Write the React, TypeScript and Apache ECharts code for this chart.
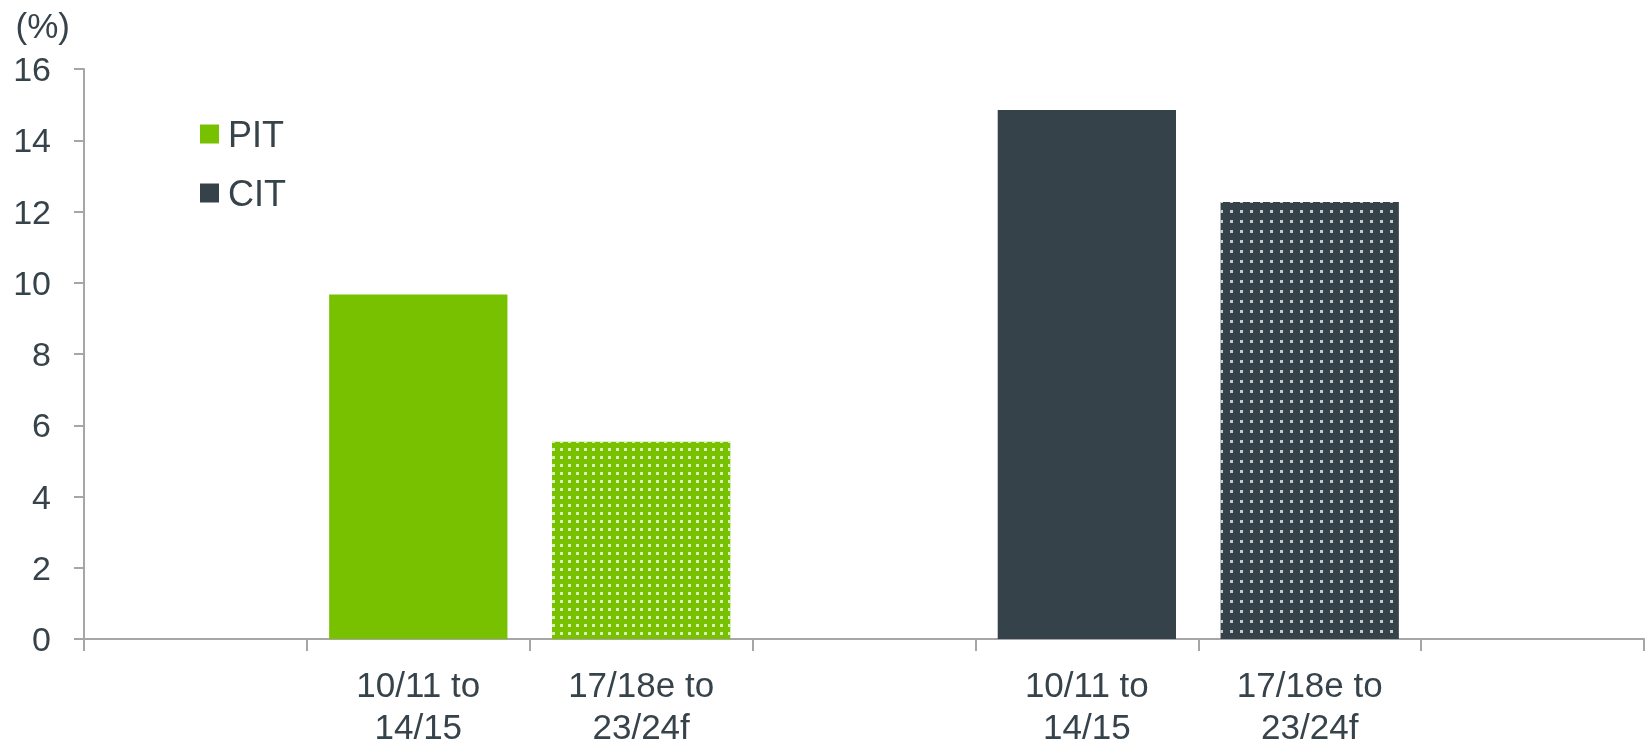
import React, { useEffect, useRef } from "react";
import * as echarts from "echarts";

const categories = ["", "10/11 to\n14/15", "17/18e to\n23/24f", "", "10/11 to\n14/15", "17/18e to\n23/24f", ""];
const pitValues: (number | null)[] = [null, 9.67, 5.54, null, null, null, null];
const citValues: (number | null)[] = [null, null, null, null, 14.85, 12.27, null];
const dottedIndex = [2, 5];
const yTicks = { min: 0, max: 16, interval: 2 };

const GREEN = "#78c100";
const DARK = "#36424a";
const TEXT = "#37434b";
const AXIS = "#a6a6a6";
const FONT = "'Liberation Sans', Arial, sans-serif";

function buildData(values: (number | null)[], dotSpacing: number) {
  return values.map((v, i) =>
    dottedIndex.includes(i) && v != null
      ? {
          value: v,
          itemStyle: {
            decal: {
              symbol: "rect",
              symbolSize: 1,
              color: "rgba(255,255,255,0.72)",
              dashArrayX: [[3, dotSpacing - 3]],
              dashArrayY: [3, dotSpacing - 3],
              rotation: 0,
            },
          },
        }
      : v
  );
}

export default function App() {
  const ref = useRef<HTMLDivElement>(null);
  useEffect(() => {
    document.body.style.margin = "0";
    const chart = echarts.init(ref.current!, null, { renderer: "svg" });
    chart.setOption({
      animation: false,
      aria: { enabled: false, decal: { show: false } },
      grid: { left: 84, right: 3, top: 69, bottom: 104, containLabel: false },
      legend: {
        orient: "vertical",
        left: 200,
        top: 116,
        padding: 0,
        itemWidth: 19,
        itemHeight: 19,
        itemGap: 23,
        icon: "rect",
        selectedMode: false,
        textStyle: { fontFamily: FONT, fontSize: 36, color: TEXT, padding: [0, 0, 0, 4] },
        data: ["PIT", "CIT"],
      },
      xAxis: {
        type: "category",
        data: categories,
        axisLine: { lineStyle: { color: AXIS, width: 2 } },
        axisTick: { show: true, length: 12, lineStyle: { color: AXIS, width: 2 } },
        axisLabel: {
          interval: 0,
          fontFamily: FONT,
          fontSize: 35,
          lineHeight: 42,
          color: TEXT,
          margin: 24,
        },
      },
      yAxis: {
        type: "value",
        min: yTicks.min,
        max: yTicks.max,
        interval: yTicks.interval,
        name: "(%)",
        nameLocation: "end",
        nameGap: 44,
        nameTextStyle: {
          fontFamily: FONT,
          fontSize: 35,
          color: TEXT,
          align: "right",
          verticalAlign: "middle",
          padding: [0, 14, 0, 0],
        },
        axisLine: { show: true, lineStyle: { color: AXIS, width: 2 } },
        axisTick: { show: true, length: 10, lineStyle: { color: AXIS, width: 2 } },
        splitLine: { show: false },
        axisLabel: { fontFamily: FONT, fontSize: 34, color: TEXT, margin: 33 },
      },
      series: [
        {
          name: "PIT",
          type: "bar",
          stack: "all",
          barWidth: "80%",
          itemStyle: { color: GREEN },
          data: buildData(pitValues, 8),
        },
        {
          name: "CIT",
          type: "bar",
          stack: "all",
          barWidth: "80%",
          itemStyle: { color: DARK },
          data: buildData(citValues, 10),
        },
      ],
    });
    return () => chart.dispose();
  }, []);
  return <div ref={ref} style={{ position: "fixed", left: 0, top: 0, width: 1647, height: 747 }} />;
}
